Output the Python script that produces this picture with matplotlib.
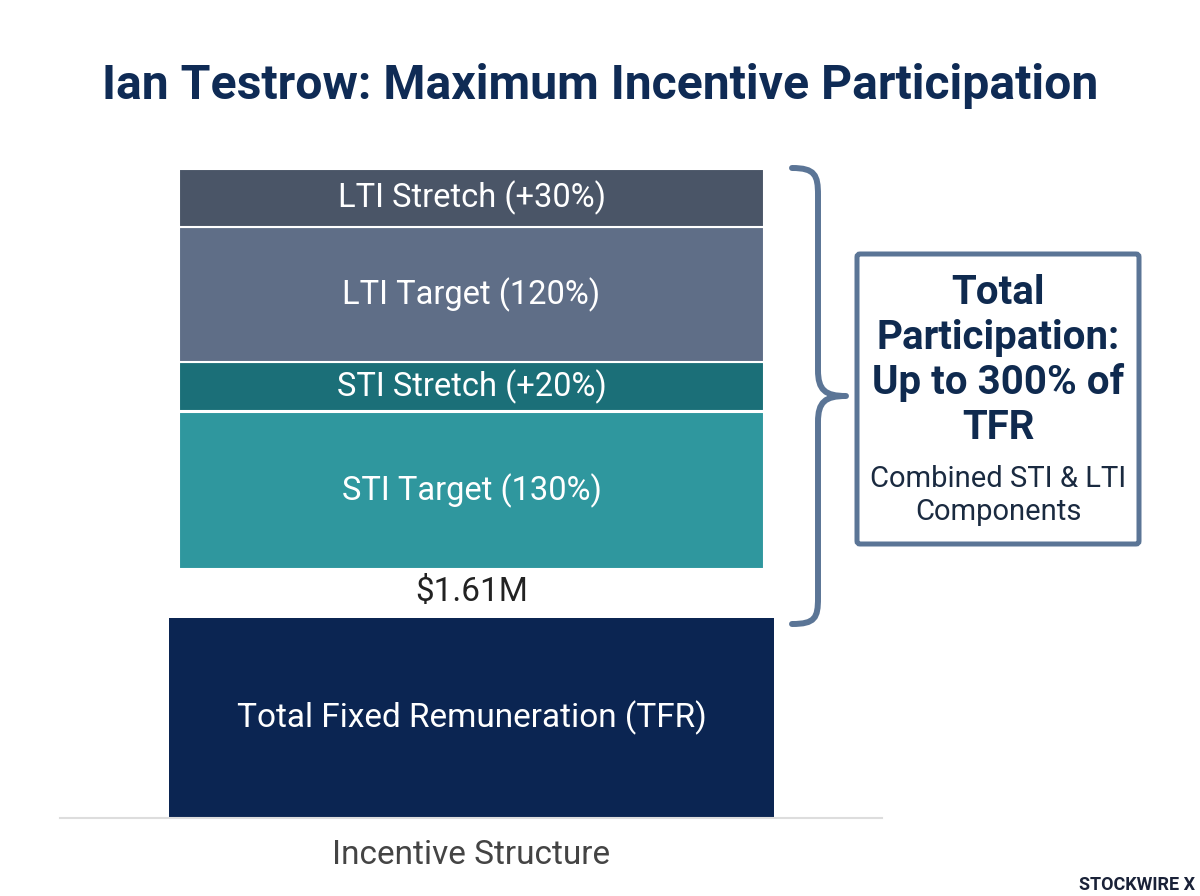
import matplotlib
matplotlib.use("Agg")
import matplotlib.pyplot as plt
from matplotlib.patches import FancyBboxPatch, PathPatch
from matplotlib.path import Path

plt.rcParams['font.family'] = ['Roboto', 'DejaVu Sans']

# ---- data ----
title = "Ian Testrow: Maximum Incentive Participation"
base_label = "Total Fixed Remuneration (TFR)"
base_value_label = "$1.61M"
base_height = 100  # TFR drawn as 100 display units
gap_height = 24.5
segment_labels = ["STI Target (130%)", "STI Stretch (+20%)", "LTI Target (120%)", "LTI Stretch (+30%)"]
segment_heights = [78.75, 24.75, 67.5, 29.0]   # visual heights, TFR = 100
segment_colors = ["#2f979e", "#1b6f78", "#5f6e87", "#4a5567"]
category = "Incentive Structure"
callout_title = ["Total", "Participation:", "Up to 300% of", "TFR"]
callout_sub = ["Combined STI & LTI", "Components"]

W, H, DPI = 1200, 896, 100
fig = plt.figure(figsize=(W / DPI, H / DPI), dpi=DPI)
fig.patch.set_facecolor("white")

# bar axes: pixel x 60..882, y 150..818
ax = fig.add_axes([60 / W, 1 - 818 / H, (882 - 60) / W, (818 - 150) / H])
ax.set_xlim(0, 822)
ax.set_ylim(0, 334)
center = 411.5
ax.bar(center, base_height, width=605, bottom=0, color="#0b2552", edgecolor="white", linewidth=0)
ax.text(center, base_height / 2, base_label, ha="center", va="center", color="white", fontsize=24)
ax.text(center, base_height + gap_height / 2 + 0.5, base_value_label, ha="center", va="center",
        color="#222222", fontsize=24)

bottom = base_height + gap_height
for lab, h, c in zip(segment_labels, segment_heights, segment_colors):
    ax.bar(center, h, width=585, bottom=bottom, color=c, edgecolor="white", linewidth=1.5)
    ax.text(center, bottom + h / 2, lab, ha="center", va="center", color="white", fontsize=23.5)
    bottom += h

for s in ["top", "left", "right"]:
    ax.spines[s].set_visible(False)
ax.spines["bottom"].set_color("#dddddd")
ax.spines["bottom"].set_linewidth(1.5)
ax.set_xticks([])
ax.set_yticks([])
ax.patch.set_alpha(0)

# overlay axes in pixel coords
ov = fig.add_axes([0, 0, 1, 1])
ov.set_xlim(0, W)
ov.set_ylim(H, 0)
ov.axis("off")
ov.patch.set_alpha(0)

ov.text(600, 86, title, ha="center", va="center", fontsize=34.7, fontweight="bold", color="#0f2b55")
ov.text(471, 855, category, ha="center", va="center", fontsize=24, color="#444444")

# brace
verts = [(792, 168), (815, 168), (818, 175), (818, 195),
         (818, 370),
         (818, 390), (825, 396), (846, 396),
         (825, 396), (818, 402), (818, 422),
         (818, 598),
         (818, 618), (815, 624), (792, 624)]
codes = [Path.MOVETO, Path.CURVE4, Path.CURVE4, Path.CURVE4,
         Path.LINETO,
         Path.CURVE4, Path.CURVE4, Path.CURVE4,
         Path.CURVE4, Path.CURVE4, Path.CURVE4,
         Path.LINETO,
         Path.CURVE4, Path.CURVE4, Path.CURVE4]
ov.add_patch(PathPatch(Path(verts, codes), facecolor="none", edgecolor="#5b7596",
                       linewidth=4.3, capstyle="round", joinstyle="round"))

# callout box
ov.add_patch(FancyBboxPatch((857, 254), 282, 290, boxstyle="round,pad=0,rounding_size=3",
                            facecolor="white", edgecolor="#5b7596", linewidth=3.6))
for i, line in enumerate(callout_title):
    ov.text(998, 293 + 45 * i, line, ha="center", va="center", fontsize=29,
            fontweight="bold", color="#0f2a4f")
for i, line in enumerate(callout_sub):
    ov.text(998, 479 + 33 * i, line, ha="center", va="center", fontsize=21, color="#1a2a40")

# logo
ov.text(1195, 885, "STOCKWIRE X", ha="right", va="center", fontsize=13,
        fontweight="bold", color="#1a2238")

fig.savefig("out.png", dpi=DPI, facecolor="white")
